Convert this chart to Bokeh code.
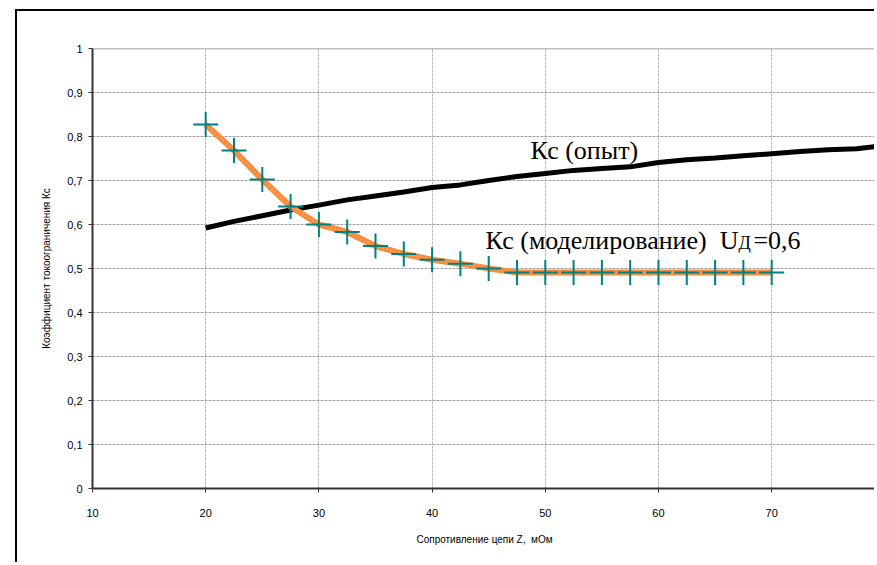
from bokeh.plotting import figure
from bokeh.models import (Range1d, FixedTicker, CustomJSTickFormatter,
                          ColumnDataSource, Span)
from bokeh.core.properties import value
from bokeh.embed import file_html
from bokeh.resources import INLINE

# ---- data ----
z_exp = [20, 22.5, 25, 27.5, 30, 32.5, 35, 37.5, 40, 42.5, 45, 47.5, 50,
         52.5, 55, 57.5, 60, 62.5, 65, 67.5, 70, 72.5, 75, 77.5, 80]
kc_exp = [0.592, 0.607, 0.620, 0.633, 0.644, 0.656, 0.665, 0.674, 0.684, 0.690,
          0.700, 0.709, 0.716, 0.723, 0.727, 0.731, 0.741, 0.747, 0.751, 0.756,
          0.761, 0.766, 0.770, 0.772, 0.780]

z_model = [20, 22.5, 25, 27.5, 30, 32.5, 35, 37.5, 40, 42.5, 45, 47.5, 50,
           52.5, 55, 57.5, 60, 62.5, 65, 67.5, 70]
kc_model = [0.827, 0.768, 0.702, 0.641, 0.600, 0.583, 0.551, 0.533, 0.520, 0.511,
            0.500, 0.491, 0.491, 0.491, 0.491, 0.491, 0.491, 0.491, 0.491, 0.491, 0.491]

x_ticks = [10, 20, 30, 40, 50, 60, 70, 80]
y_ticks = [0, 0.1, 0.2, 0.3, 0.4, 0.5, 0.6, 0.7, 0.8, 0.9, 1]

x_title = "Сопротивление цепи Z,\u00a0 мОм"
y_title = "Коэффициент токоограничения Кс"
label_exp = "Кс (опыт)"
label_model = "Кс (моделирование)\u00a0 U"
label_sub = "Д"
label_val = "=0,6"

# ---- figure ----
p = figure(width=859, height=553, output_backend="svg", toolbar_location=None,
           x_range=Range1d(10, 79.26), y_range=Range1d(0, 1),
           min_border_left=75, min_border_right=0, min_border_top=37,
           min_border_bottom=76)
# outer chart frame: only its left and top edges are inside the window
p.margin = (9, 0, 0, 15)
p.styles = {"border-left": "2px solid #000000", "border-top": "2px solid #000000",
            "border-right": "none", "border-bottom": "none"}
p.background_fill_color = "white"
p.border_fill_color = "white"
p.outline_line_color = None

p.xaxis.ticker = FixedTicker(ticks=x_ticks)
p.yaxis.ticker = FixedTicker(ticks=y_ticks)
p.yaxis.formatter = CustomJSTickFormatter(
    code="var s = (Math.round(tick*10)/10).toString(); return s.replace('.', ',');")

for ax in (p.xaxis, p.yaxis):
    ax.axis_line_color = "#333333"
    ax.axis_line_width = 2
    ax.major_tick_line_color = "#333333"
    ax.major_tick_out = 4
    ax.major_tick_in = 0
    ax.minor_tick_line_color = None
    ax.major_label_text_font = "Liberation Sans"
    ax.major_label_text_font_size = "11px"
    ax.major_label_text_color = "#000000"
    ax.axis_label_text_font = "Liberation Sans"
    ax.axis_label_text_font_size = "10px"
    ax.axis_label_text_font_style = "normal"
    ax.axis_label_text_color = "#000000"

p.xaxis.axis_label = x_title
p.yaxis.axis_label = y_title
p.xaxis.major_label_standoff = 16
p.yaxis.major_label_standoff = 6
p.xaxis.axis_label_standoff = 14
p.yaxis.axis_label_standoff = 12

p.xgrid.ticker = FixedTicker(ticks=x_ticks)
p.ygrid.ticker = FixedTicker(ticks=y_ticks)
p.xgrid.grid_line_color = "#b8b8b8"
p.ygrid.grid_line_color = "#a0a0a0"
p.xgrid.grid_line_dash = "3 1"
p.ygrid.grid_line_dash = "3 1"
p.xgrid.grid_line_width = 1
p.ygrid.grid_line_width = 1

# solid grey top edge of the plot area
p.add_layout(Span(location=y_ticks[-1], dimension="width",
                  line_color="#808080", line_width=1.5))

# ---- series ----
src_exp = ColumnDataSource(dict(z=z_exp, kc=kc_exp))
src_model = ColumnDataSource(dict(z=z_model, kc=kc_model))

p.line("z", "kc", source=src_exp, line_color="black", line_width=5)
p.line("z", "kc", source=src_model, line_color="#F88C3C", line_width=6)
p.line("z", "kc", source=src_model, line_color="#FCB482", line_width=1.5,
       line_dash="1 3")
p.scatter("z", "kc", source=src_model, marker="cross", size=25,
          line_color="#008080", line_width=2)

# ---- annotations ----
serif = value("Liberation Serif")
p.text(x=[48.69], y=[0.768], text=[label_exp], text_font=serif,
       text_font_size="26px", text_color="black", text_align="left",
       text_baseline="alphabetic")
p.text(x=[67.07], y=[0.5636], text=[label_model], text_font=serif,
       text_font_size="26px", text_color="black", text_align="right",
       text_baseline="alphabetic")
p.text(x=[67.07], y=[0.5636], text=[label_sub], text_font=serif,
       text_font_size="18px", text_color="black", text_align="left",
       text_baseline="alphabetic", y_offset=2)
p.text(x=[68.39], y=[0.5636], text=[label_val], text_font=serif,
       text_font_size="26px", text_color="black", text_align="left",
       text_baseline="alphabetic")

open("out.html", "w").write(file_html(p, INLINE))
